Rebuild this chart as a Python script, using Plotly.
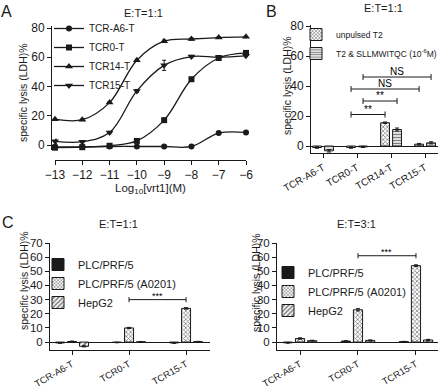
import plotly.graph_objects as go

W, H = 440, 390
FONT = "Arial, Liberation Sans, sans-serif"
INK = "#1a1a1a"


def px(x):
    return x / W


def py(y):
    return 1 - y / H


# ---------------- Panel A data ----------------
a_log_conc = [-13, -12, -11, -10, -9, -8, -7, -6]
a_names = ["TCR-A6-T", "TCR0-T", "TCR14-T", "TCR15-T"]
a_tcr_a6 = [-1.2, -1.2, -1.0, -1.0, -1.0, -1.0, 8.2, 8.6]
a_tcr_a6_err = [0.4, 0.4, 0.3, 0.3, 0.3, 0.3, 0.5, 0.5]
a_tcr0 = [-1.8, -1.5, -0.5, 2.8, 17.0, 45.0, 59.5, 63.0]
a_tcr0_err = [0.6, 0.6, 0.4, 0.6, 0.8, 1.0, 1.0, 1.0]
a_tcr14 = [17.7, 17.3, 29.0, 58.0, 71.0, 72.5, 73.5, 74.0]
a_tcr14_err = [0.5, 0.6, 0.6, 0.6, 0.8, 0.8, 0.6, 0.6]
a_tcr15 = [2.5, 2.3, 8.5, 37.0, 54.5, 60.5, 60.0, 61.0]
a_tcr15_err = [1.5, 0.8, 0.8, 1.0, 3.5, 0.8, 0.8, 0.8]
a_ticks_y = [0, 20, 40, 60, 80]

# ---------------- Panel B data ----------------
b_categories = ["TCR-A6-T", "TCR0-T", "TCR14-T", "TCR15-T"]
b_series = ["unpulsed T2", "T2 & SLLMWITQC (10<sup>-6</sup>M)"]
b_unpulsed = [-1.0, -1.0, 15.5, 1.2]
b_unpulsed_err = [0.5, 0.5, 0.5, 0.5]
b_pulsed = [-3.2, -0.6, 11.0, 2.1]
b_pulsed_err = [0.8, 0.4, 1.0, 0.7]
b_ticks_y = [0, 20, 40, 60, 80]
# (category a, series a, category b, series b, level, label)
b_comparisons = [
    ("TCR0-T", 0, "TCR14-T", 0, 21, "**"),
    ("TCR0-T", 1, "TCR14-T", 1, 30, "**"),
    ("TCR0-T", 0, "TCR15-T", 0, 38, "NS"),
    ("TCR0-T", 1, "TCR15-T", 1, 46, "NS"),
]

# ---------------- Panels C / D data ----------------
cd_categories = ["TCR-A6-T", "TCR0-T", "TCR15-T"]
cd_series = ["PLC/PRF/5", "PLC/PRF/5 (A0201)", "HepG2"]
c_plc = [-0.6, -0.3, -0.6]
c_plc_err = [0.3, 0.2, 0.3]
c_a0201 = [0.4, 10.0, 23.8]
c_a0201_err = [0.3, 0.4, 0.5]
c_hepg2 = [-3.0, 0.2, 0.3]
c_hepg2_err = [0.4, 0.2, 0.2]
d_plc = [-0.5, 0.7, 0.3]
d_plc_err = [0.3, 0.3, 0.2]
d_a0201 = [2.5, 22.8, 54.0]
d_a0201_err = [0.5, 0.8, 0.6]
d_hepg2 = [1.0, 1.2, 1.5]
d_hepg2_err = [0.3, 0.3, 0.4]
cd_ticks_y = [0, 10, 20, 30, 40, 50, 60, 70]
c_comparisons = [("TCR0-T", 1, "TCR15-T", 1, 30, "***")]
d_comparisons = [("TCR0-T", 1, "TCR15-T", 1, 61, "***")]

# ---------------- styles ----------------
a_symbols = ["circle", "square", "triangle-up", "triangle-down"]
checker = dict(shape="x", size=3, solidity=0.45, fgcolor="black", bgcolor="white")
hlines = dict(shape="-", size=3, solidity=0.5, fgcolor="black", bgcolor="white")
diag = dict(shape="/", size=4, solidity=0.5, fgcolor="black", bgcolor="white")
solid = dict(shape="")

fig = go.Figure()

# Panel A traces
a_values = [a_tcr_a6, a_tcr0, a_tcr14, a_tcr15]
a_errs = [a_tcr_a6_err, a_tcr0_err, a_tcr14_err, a_tcr15_err]
for name, vals, errs, sym in zip(a_names, a_values, a_errs, a_symbols):
    fig.add_trace(go.Scatter(
        x=a_log_conc, y=vals, name=name, mode="lines+markers",
        line=dict(shape="spline", smoothing=1.0, color=INK, width=1.3),
        marker=dict(symbol=sym, size=6 if sym in ("circle", "square") else 7, color=INK),
        error_y=dict(type="data", array=errs, color=INK, thickness=1, width=2),
        cliponaxis=False, xaxis="x", yaxis="y", legend="legend",
    ))

# Panel B traces
b_x = list(range(len(b_categories)))
b_w = 0.26
b_centers = [-0.176, 0.176]
for vals, errs, name, pat, ctr in zip([b_unpulsed, b_pulsed], [b_unpulsed_err, b_pulsed_err],
                                       b_series, [checker, hlines], b_centers):
    fig.add_trace(go.Bar(
        x=b_x, y=vals, name=name, width=b_w, offset=ctr - b_w / 2,
        marker=dict(color="white", line=dict(color=INK, width=1), pattern=pat),
        error_y=dict(type="data", array=errs, color=INK, thickness=1, width=2),
        xaxis="x2", yaxis="y2", legend="legend2", cliponaxis=False,
    ))

# Panels C and D traces
cd_x = list(range(len(cd_categories)))
cd_w = 0.158
cd_centers = [-0.21, 0.0, 0.21]
cd_patterns = [solid, checker, diag]
cd_colors = [INK, "white", "white"]
for panel, (vals_list, errs_list, xa, ya, lg) in enumerate([
    ([c_plc, c_a0201, c_hepg2], [c_plc_err, c_a0201_err, c_hepg2_err], "x3", "y3", "legend3"),
    ([d_plc, d_a0201, d_hepg2], [d_plc_err, d_a0201_err, d_hepg2_err], "x4", "y4", "legend4"),
]):
    for vals, errs, name, pat, col, ctr in zip(vals_list, errs_list, cd_series,
                                                cd_patterns, cd_colors, cd_centers):
        fig.add_trace(go.Bar(
            x=cd_x, y=vals, name=name, width=cd_w, offset=ctr - cd_w / 2,
            marker=dict(color=col, line=dict(color=INK, width=1), pattern=pat),
            error_y=dict(type="data", array=errs, color=INK, thickness=1, width=2),
            xaxis=xa, yaxis=ya, legend=lg, cliponaxis=False,
        ))

# significance brackets
shapes = []
annotations = []


def add_brackets(comps, cats, centers, xref, yref, cap, text_dy, fsize):
    for ca, sa, cb, sb, lvl, lab in comps:
        x0 = cats.index(ca) + centers[sa]
        x1 = cats.index(cb) + centers[sb]
        ln = dict(color=INK, width=1)
        shapes.append(dict(type="line", xref=xref, yref=yref, x0=x0, x1=x1, y0=lvl, y1=lvl, line=ln))
        for xx in (x0, x1):
            shapes.append(dict(type="line", xref=xref, yref=yref, x0=xx, x1=xx,
                               y0=lvl - cap, y1=lvl + cap, line=ln))
        annotations.append(dict(xref=xref, yref=yref, x=(x0 + x1) / 2, y=lvl, text=lab,
                                showarrow=False, yanchor="bottom", yshift=text_dy,
                                font=dict(size=fsize, color="black", family=FONT)))


add_brackets(b_comparisons, b_categories, b_centers, "x2", "y2", 2.0, -2, 10)
add_brackets(c_comparisons, cd_categories, cd_centers, "x3", "y3", 1.8, -3, 9)
add_brackets(d_comparisons, cd_categories, cd_centers, "x4", "y4", 1.8, -3, 9)


def txt(x, y, s, size, angle=0):
    annotations.append(dict(xref="paper", yref="paper", x=px(x), y=py(y), text=s,
                            showarrow=False, xanchor="center", yanchor="middle",
                            textangle=angle, font=dict(size=size, color=INK, family=FONT)))


# panel letters and titles
txt(7, 11, "A", 16)
txt(271, 11, "B", 16)
txt(8, 222, "C", 16)
txt(143, 13, "E:T=1:1", 11)
txt(383, 8, "E:T=1:1", 11)
txt(118, 224, "E:T=1:1", 11)
txt(356, 224, "E:T=3:1", 11)
# axis titles
txt(23, 93, "specific lysis (LDH)%", 10.5, -90)
txt(287, 86, "specific lysis (LDH)%", 10.5, -90)
txt(24, 281, "specific lysis (LDH)%", 10.5, -90)
txt(256, 283, "specific lysis (LDH)%", 10.5, -90)
txt(150, 189, "Log<sub>10</sub>[vrt1](M)", 11.5)

axis_common = dict(showgrid=False, zeroline=False, showline=True, linecolor=INK, linewidth=1,
                   ticks="outside", ticklen=4, tickwidth=1, tickcolor=INK,
                   tickfont=dict(family=FONT, size=12, color=INK))


def ax(**kw):
    d = dict(axis_common)
    d.update(kw)
    return d


legend_common = dict(bgcolor="rgba(0,0,0,0)", borderwidth=0, xanchor="left", yanchor="top",
                     tracegroupgap=0)

fig.update_layout(
    width=W, height=H, autosize=False,
    margin=dict(l=0, r=0, t=0, b=0, pad=0, autoexpand=False),
    paper_bgcolor="white", plot_bgcolor="white",
    font=dict(family=FONT, color=INK),
    barmode="overlay",
    xaxis=ax(domain=[px(55), px(246)], range=[-13, -6], anchor="free", position=py(160),
             tickvals=a_log_conc),
    yaxis=ax(domain=[py(150), py(26)], range=[-3.4, 81.4], anchor="free", position=px(51),
             tickvals=a_ticks_y),
    xaxis2=ax(domain=[px(311), px(438)], range=[-0.353, 3.38], anchor="y2",
              tickvals=b_x, ticktext=b_categories, tickangle=-30,
              tickfont=dict(family=FONT, size=10, color=INK)),
    yaxis2=ax(domain=[py(153), py(25)], range=[-4.67, 80.67], anchor="x2",
              tickvals=b_ticks_y, zeroline=True, zerolinecolor=INK, zerolinewidth=1),
    xaxis3=ax(domain=[px(50), px(210)], range=[-0.386, 2.42], anchor="y3",
              tickvals=cd_x, ticktext=cd_categories, tickangle=-30,
              tickfont=dict(family=FONT, size=9.5, color=INK)),
    yaxis3=ax(domain=[py(350), py(243)], range=[-5.6, 70], anchor="x3",
              tickvals=cd_ticks_y, zeroline=True, zerolinecolor=INK, zerolinewidth=1,
              tickfont=dict(family=FONT, size=11.5, color=INK)),
    xaxis4=ax(domain=[px(277), px(438)], range=[-0.397, 2.38], anchor="y4",
              tickvals=cd_x, ticktext=cd_categories, tickangle=-30,
              tickfont=dict(family=FONT, size=9.5, color=INK)),
    yaxis4=ax(domain=[py(350), py(243)], range=[-5.6, 70], anchor="x4",
              tickvals=cd_ticks_y, zeroline=True, zerolinecolor=INK, zerolinewidth=1,
              tickfont=dict(family=FONT, size=11.5, color=INK)),
    legend=dict(legend_common, x=px(49), y=py(14), font=dict(family=FONT, size=10, color=INK)),
    legend2=dict(legend_common, x=px(296), y=py(20), font=dict(family=FONT, size=8.5, color=INK)),
    legend3=dict(legend_common, x=px(38), y=py(250), font=dict(family=FONT, size=11, color=INK)),
    legend4=dict(legend_common, x=px(268), y=py(258), font=dict(family=FONT, size=11, color=INK)),
    shapes=shapes,
    annotations=annotations,
)

fig.write_html(
    "out.html",
    config={"displayModeBar": False},
    post_script="document.body.style.margin='0';document.body.style.padding='0';",
)
